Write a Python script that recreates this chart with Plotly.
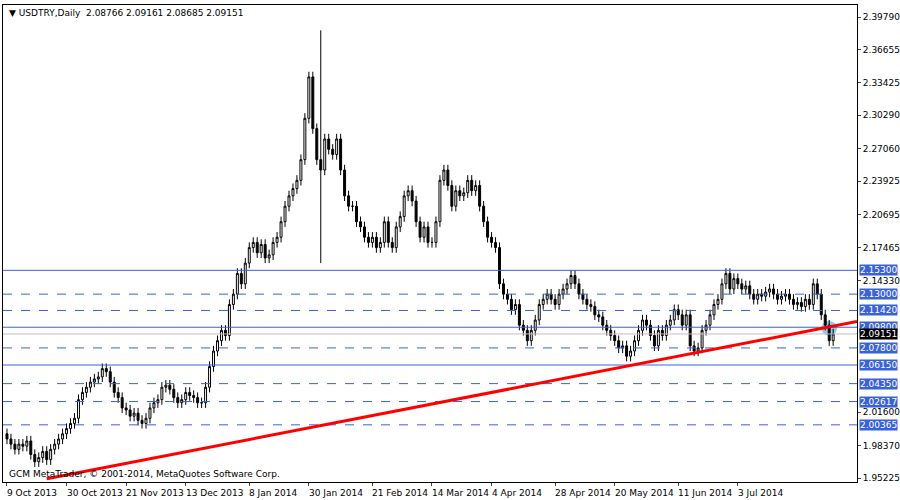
import plotly.graph_objects as go

closes = [1.990,1.985,1.980,1.985,1.983,1.988,1.975,1.968,1.972,1.978,1.970,1.980,1.985,1.990,1.995,2.000,
2.005,2.010,2.028,2.035,2.040,2.045,2.048,2.050,2.058,2.055,
2.045,2.035,2.030,2.020,2.018,2.012,2.015,2.008,2.005,2.010,
2.020,2.025,2.028,2.040,2.042,2.038,2.030,2.025,2.028,2.035,2.032,2.030,2.025,2.025,
2.040,2.060,2.075,2.085,2.095,2.090,2.120,2.130,
2.150,2.140,2.160,2.175,2.180,2.170,2.178,2.165,2.168,2.180,2.185,2.200,2.215,2.225,2.232,2.240,2.260,2.300,
2.340,2.290,2.260,2.250,2.280,
2.270,2.265,2.280,2.250,2.225,2.215,2.215,2.200,2.195,2.185,
2.180,2.185,2.175,2.180,2.200,2.180,2.175,2.195,2.205,
2.225,2.230,2.220,2.200,2.185,2.195,2.180,2.180,2.200,2.240,2.250,
2.235,2.215,2.230,2.225,2.228,2.240,2.230,2.235,2.215,2.200,
2.185,2.180,2.175,2.140,2.130,
2.125,2.115,2.120,2.100,2.095,2.085,2.095,2.105,
2.120,2.125,2.130,2.125,2.120,2.130,2.135,2.140,2.148,2.140,2.130,2.125,
2.120,2.118,2.110,2.108,2.100,2.095,2.090,2.085,2.078,2.080,2.070,2.075,2.085,
2.095,2.105,2.100,2.090,2.080,2.095,2.090,2.100,2.105,
2.115,2.110,2.100,2.110,2.080,2.075,2.078,2.095,2.100,
2.110,2.120,2.125,
2.140,2.150,2.135,2.145,2.140,2.135,2.138,2.130,2.125,2.130,2.128,2.132,2.135,2.130,2.125,2.128,2.130,
2.125,2.120,2.122,2.118,2.125,2.120,2.140,2.130,2.110,2.100,2.085,2.09151]
opens = [1.995] + closes[:-1]
wick = 0.005
highs = [max(o, c) + wick for o, c in zip(opens, closes)]
lows = [min(o, c) - wick for o, c in zip(opens, closes)]
highs[79] = 2.385   # 30 Jan spike high
lows[79] = 2.160    # 30 Jan spike low
N = len(closes)
x = list(range(N))

tick_idx = [0, 15, 30, 45, 61, 76, 92, 107, 122, 138, 153, 169, 184]
tick_txt = ["9 Oct 2013", "30 Oct 2013", "21 Nov 2013", "13 Dec 2013", "8 Jan 2014", "30 Jan 2014",
            "21 Feb 2014", "14 Mar 2014", "4 Apr 2014", "28 Apr 2014", "20 May 2014", "11 Jun 2014", "3 Jul 2014"]
y_ticks = [2.39790, 2.36655, 2.33425, 2.30290, 2.27060, 2.23925, 2.20695, 2.17465, 2.14330, 2.01600, 1.98370, 1.95225]
solid_levels = [2.15300, 2.09800, 2.06150]
dashed_levels = [2.13000, 2.11420, 2.07800, 2.04350, 2.02617, 2.00365]
current = 2.09151

fig = go.Figure(go.Candlestick(x=x, open=opens, high=highs, low=lows, close=closes,
    increasing=dict(line=dict(color="black", width=1), fillcolor="white"),
    decreasing=dict(line=dict(color="black", width=1), fillcolor="black"),
    whiskerwidth=0, showlegend=False))

shapes = []
for lv in solid_levels:
    shapes.append(dict(type="line", xref="paper", x0=0, x1=1, y0=lv, y1=lv, line=dict(color="#3a62d8", width=1)))
for lv in dashed_levels:
    shapes.append(dict(type="line", xref="paper", x0=0, x1=1, y0=lv, y1=lv, line=dict(color="#3a62d8", width=1, dash="dash")))
shapes.append(dict(type="line", xref="paper", x0=0, x1=1, y0=current, y1=current, line=dict(color="#c0c0c0", width=1)))
shapes.append(dict(type="line", x0=10, x1=N + 5, y0=1.9515, y1=2.1035, line=dict(color="#ff0000", width=3)))
shapes.append(dict(type="circle", x0=N - 4, x1=N, y0=2.090, y1=2.104, fillcolor="rgba(100,180,230,0.7)", line=dict(width=0), layer="below"))
fig.update_layout(shapes=shapes)

lab_font = dict(color="white", size=9, family="DejaVu Sans")
ann = []
for lv in solid_levels + dashed_levels:
    ann.append(dict(xref="paper", x=1.002, y=lv, text="%.5f" % lv, showarrow=False, xanchor="left",
                    bgcolor="#3a62d8", font=lab_font, borderpad=0))
ann.append(dict(xref="paper", x=1.002, y=current, text="%.5f" % current, showarrow=False, xanchor="left",
                bgcolor="black", font=lab_font, borderpad=0))
for i, t in zip(tick_idx, tick_txt):
    ann.append(dict(x=i - 0.5, yref="paper", y=-0.008, text=t, showarrow=False, xanchor="left", yanchor="top",
                    font=dict(size=9, color="black")))
ann.append(dict(xref="paper", yref="paper", x=0.005, y=0.997, xanchor="left", yanchor="top", showarrow=False,
                text="▼ USDTRY,Daily  2.08766 2.09161 2.08685 2.09151", font=dict(size=9, color="black")))
ann.append(dict(xref="paper", yref="paper", x=0.005, y=0.003, xanchor="left", yanchor="bottom", showarrow=False,
                text="GCM MetaTrader, © 2001-2014, MetaQuotes Software Corp.", font=dict(size=9, color="black")))

fig.update_layout(annotations=ann, width=900, height=500, plot_bgcolor="white", paper_bgcolor="white",
    margin=dict(l=3, r=43, t=5, b=18, autoexpand=False), font=dict(family="DejaVu Sans", size=9, color="black"),
    xaxis=dict(rangeslider=dict(visible=False), range=[-1, N + 5], tickvals=tick_idx, showticklabels=False,
               automargin=False,
               showgrid=False, showline=True, linecolor="black", mirror=True, ticks="outside", ticklen=3),
    yaxis=dict(side="right", range=[1.9484, 2.4095], tickvals=y_ticks, ticktext=["%.5f" % v for v in y_ticks],
               automargin=False,
               showgrid=False, showline=True, linecolor="black", mirror=True, ticks="outside", ticklen=3,
               tickfont=dict(size=9)))
fig.write_html("out.html", config={"displayModeBar": False},
               post_script="document.body.style.margin='0';document.body.style.overflow='hidden';")
